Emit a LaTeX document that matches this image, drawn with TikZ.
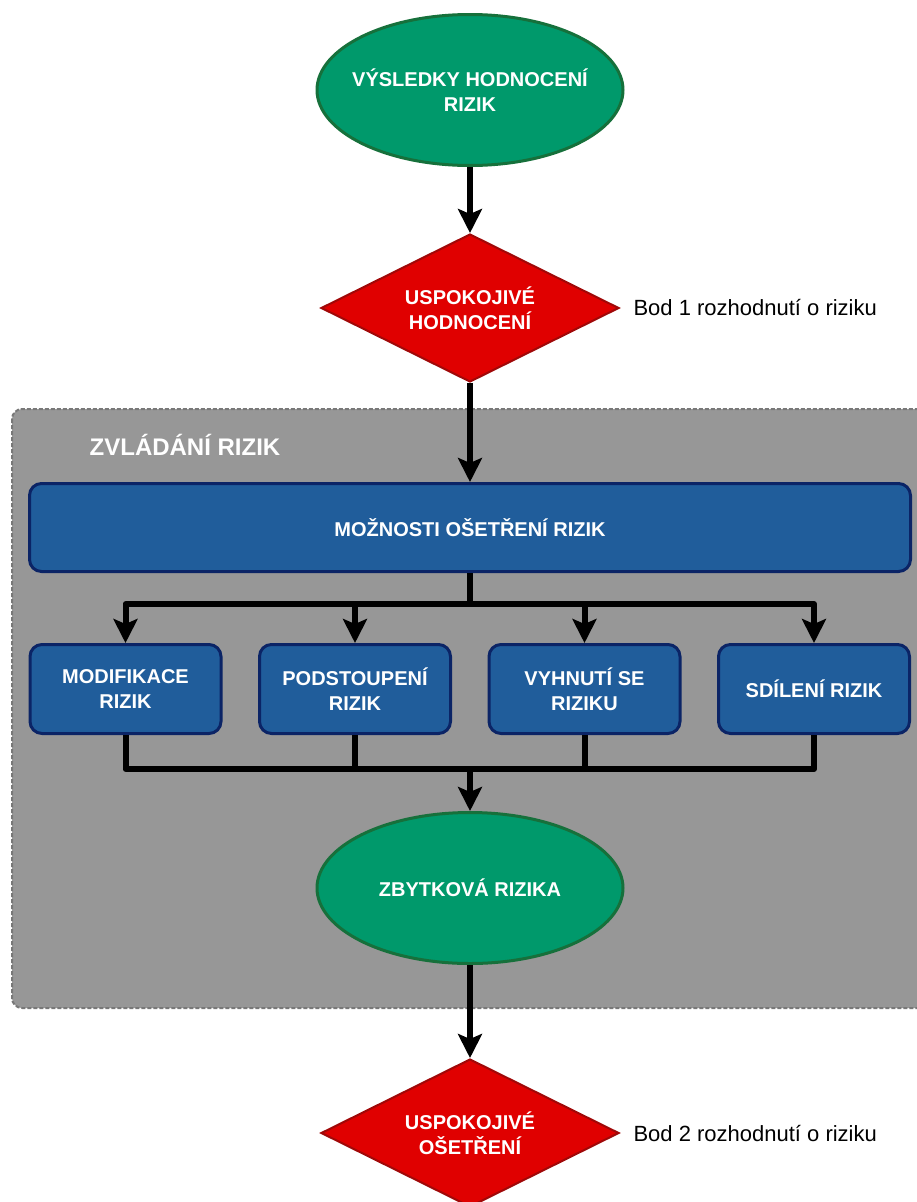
\documentclass[tikz,border=0pt]{standalone}
\usepackage{fontspec}
\setmainfont{Liberation Sans}
\usepackage{tikz}
\usetikzlibrary{positioning}
\usetikzlibrary{shapes.geometric,arrows.meta}
\definecolor{zelena}{HTML}{00996B}
\definecolor{zelenaokraj}{HTML}{16703B}
\definecolor{cervena}{HTML}{E00000}
\definecolor{cervenaokraj}{HTML}{A00808}
\definecolor{modra}{HTML}{205D9B}
\definecolor{modraokraj}{HTML}{0B2466}
\definecolor{seda}{HTML}{979797}
\definecolor{sedaokraj}{HTML}{787878}

\begin{document}
\begin{tikzpicture}[x = 1pt, y = -1pt,
every node/.style = {text = white, align = center, font = \bfseries\fontsize{20}{25}\selectfont},
  vysledek/.style = {ellipse, draw = zelenaokraj, fill = zelena, line width = 3pt, inner xsep = -15pt, inner ysep = 0pt,
                     minimum width = 306pt, minimum height = 151pt},
  rozhodnuti/.style = {diamond, aspect = 2, draw = cervenaokraj, fill = cervena, line width = 2pt,
                       minimum width = 298pt, minimum height = 148pt, inner sep = 0pt},
  moznost/.style = {rectangle, rounded corners = 12pt, draw = modraokraj, fill = modra, line width = 3pt,
                    minimum width = 191pt, minimum height = 89pt},
  popis/.style = {text = black, font = \fontsize{22}{26}\selectfont},
  sipka/.style = {line width = 6pt, -{Stealth[length = 24pt, width = 24pt, inset = 5pt]}},
  cara/.style = {line width = 6pt, line join = round}
]
\useasboundingbox (0,0) rectangle (917,1202);
% sede pozadi
\draw[rounded corners = 10pt, fill = seda, draw = sedaokraj, line width = 2pt, dash pattern = on 4pt off 2pt] (12,409) rectangle (940,1008);
\node[font = \bfseries\fontsize{24}{28}\selectfont] (zvladani) at (185,445) {ZVLÁDÁNÍ RIZIK};

\node[vysledek] (vysledky) at (470,90) {VÝSLEDKY HODNOCENÍ\\RIZIK};
\node[rozhodnuti] (hodnoceni) at (470,308) {USPOKOJIVÉ\\HODNOCENÍ};
\node[popis, right = 10pt of hodnoceni] (bod1) {Bod 1 rozhodnutí o riziku};

\node[rectangle, rounded corners = 12pt, draw = modraokraj, fill = modra, line width = 3pt,
      minimum width = 881pt, minimum height = 88pt] (moznosti) at (470,527.5) {MOŽNOSTI OŠETŘENÍ RIZIK};

\node[moznost] (modifikace) at (125.5,689) {MODIFIKACE\\RIZIK};
\node[moznost] (podstoupeni) at (355,689) {PODSTOUPENÍ\\RIZIK};
\node[moznost] (vyhnuti) at (584.5,689) {VYHNUTÍ SE\\RIZIKU};
\node[moznost] (sdileni) at (814,689) {SDÍLENÍ RIZIK};

\node[vysledek] (zbytkova) at (470,888) {ZBYTKOVÁ RIZIKA};
\node[rozhodnuti] (osetreni) at (470,1133) {USPOKOJIVÉ\\OŠETŘENÍ};
\node[popis, right = 10pt of osetreni] (bod2) {Bod 2 rozhodnutí o riziku};

\coordinate (rozdeleni) at (470,604);
\coordinate (spojeni) at (470,769);

\draw[sipka] (vysledky) -- (hodnoceni);
\draw[sipka] (hodnoceni) -- (moznosti);
\draw[cara] (moznosti.south) -- (rozdeleni);
\foreach \m in {modifikace, podstoupeni, vyhnuti, sdileni}
  \draw[sipka, line join = round] (rozdeleni) -| (\m.north);
\foreach \m in {modifikace, podstoupeni, vyhnuti, sdileni}
  \draw[cara] (\m.south) |- (spojeni);
\draw[sipka] (spojeni) -- (zbytkova);
\draw[sipka] (zbytkova) -- (osetreni);
\end{tikzpicture}
\end{document}
